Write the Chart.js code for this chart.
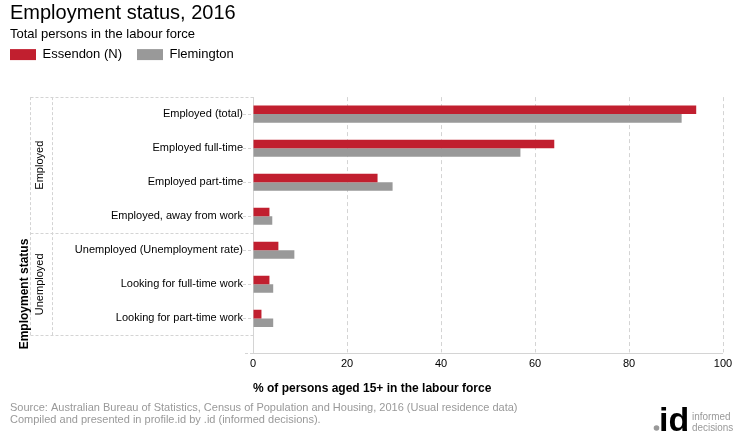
<!DOCTYPE html>
<html><head><meta charset="utf-8">
<script src="https://cdn.jsdelivr.net/npm/chart.js@4"></script>
<style>html,body{margin:0;padding:0;background:#fff}#wrap{width:740px;height:440px;position:relative}</style>
</head><body><div id="wrap"><canvas id="c" width="740" height="440"></canvas></div>
<script>
const chartTitle = 'Employment status, 2016';
const chartSubtitle = 'Total persons in the labour force';
const categories = ['Employed (total)','Employed full-time','Employed part-time','Employed, away from work','Unemployed (Unemployment rate)','Looking for full-time work','Looking for part-time work'];
const groupNames = ['Employed','Unemployed'];
const groupSizes = [4,3];
const seriesNames = ['Essendon (N)','Flemington'];
const essendon = [94.3,64.1,26.5,3.5,5.4,3.5,1.8];
const flemington = [91.2,56.9,29.7,4.1,8.8,4.3,4.3];
const xTicks = [0,20,40,60,80,100];
const yTitle = 'Employment status';
const xTitle = '% of persons aged 15+ in the labour force';
const sourceLines = ['Source: Australian Bureau of Statistics, Census of Population and Housing, 2016 (Usual residence data)','Compiled and presented in profile.id by .id (informed decisions).'];

const FONT = "'Liberation Sans', Arial, sans-serif";
const GRID = '#d4d4d4';

const decor = {
  id: 'decor',
  afterLayout(chart) {
    if (chart.legend) { chart.legend.left -= 15; }
  },
  beforeDatasetsDraw(chart) {
    const ctx = chart.ctx, ca = chart.chartArea;
    const axisY = ca.bottom + 17.5;
    ctx.save();
    ctx.strokeStyle = GRID; ctx.lineWidth = 1;
    ctx.beginPath();
    ctx.moveTo(Math.round(ca.left) + 0.5, ca.top);
    ctx.lineTo(Math.round(ca.left) + 0.5, axisY);
    ctx.moveTo(ca.left, Math.round(axisY) + 0.5);
    ctx.lineTo(ca.right, Math.round(axisY) + 0.5);
    ctx.stroke();
    ctx.setLineDash([3,2]);
    ctx.beginPath();
    ctx.moveTo(ca.left - 8, Math.round(axisY) + 0.5);
    ctx.lineTo(ca.left, Math.round(axisY) + 0.5);
    ctx.stroke();
    ctx.restore();
  },
  afterDraw(chart) {
    const ctx = chart.ctx, ca = chart.chartArea, y = chart.scales.y;
    const x0 = 30.5, x1 = 52.5, xr = Math.round(ca.left);
    ctx.save();
    ctx.strokeStyle = GRID; ctx.lineWidth = 1; ctx.setLineDash([3,2]);
    let idx = 0;
    const bounds = [y.getPixelForValue(-0.5)];
    groupSizes.forEach(n => { idx += n; bounds.push(y.getPixelForValue(idx - 0.5)); });
    ctx.beginPath();
    bounds.forEach(b => { const yy = Math.round(b) + 0.5; ctx.moveTo(x0, yy); ctx.lineTo(xr, yy); });
    ctx.moveTo(x0, bounds[0]); ctx.lineTo(x0, bounds[bounds.length-1]);
    ctx.moveTo(x1, bounds[0]); ctx.lineTo(x1, bounds[bounds.length-1]);
    ctx.stroke();
    ctx.setLineDash([]);
    ctx.fillStyle = '#000';
    ctx.textAlign = 'center'; ctx.textBaseline = 'middle';
    ctx.font = '11px ' + FONT;
    groupNames.forEach((g, i) => {
      const cy = (bounds[i] + bounds[i+1]) / 2;
      ctx.save(); ctx.translate(40, cy); ctx.rotate(-Math.PI/2); ctx.fillText(g, 0, 0); ctx.restore();
    });
    ctx.font = 'bold 12px ' + FONT;
    ctx.save(); ctx.translate(25, 294); ctx.rotate(-Math.PI/2); ctx.fillText(yTitle, 0, 0); ctx.restore();
    ctx.textAlign = 'left'; ctx.textBaseline = 'alphabetic';
    ctx.fillStyle = '#999'; ctx.font = '11px ' + FONT;
    ctx.fillText(sourceLines[0], 10, 411);
    ctx.fillText(sourceLines[1], 10, 423);
    ctx.fillStyle = '#999';
    ctx.beginPath(); ctx.arc(656.5, 428, 2.8, 0, Math.PI*2); ctx.fill();
    ctx.fillStyle = '#000'; ctx.font = 'bold 34px ' + FONT;
    ctx.fillText('id', 659, 431);
    ctx.fillStyle = '#999'; ctx.font = "11px 'Liberation Sans Narrow', 'Liberation Sans', Arial, sans-serif";
    ctx.save(); ctx.translate(692, 0); ctx.scale(0.9, 1);
    ctx.fillText('informed', 0, 420);
    ctx.fillText('decisions', 0, 431);
    ctx.restore();
    ctx.restore();
  }
};

new Chart(document.getElementById('c'), {
  type: 'bar',
  data: {
    labels: categories,
    datasets: [
      { label: seriesNames[0], data: essendon, backgroundColor: '#C11F2F', borderWidth: 0 },
      { label: seriesNames[1], data: flemington, backgroundColor: '#999999', borderWidth: 0 }
    ]
  },
  options: {
    indexAxis: 'y',
    responsive: false,
    animation: false,
    devicePixelRatio: 1,
    categoryPercentage: 0.5,
    barPercentage: 1.0,
    layout: { padding: { left: 10, right: 17, top: 0, bottom: 44 } },
    scales: {
      x: {
        type: 'linear', position: 'bottom', min: 0, max: 100,
        afterBuildTicks(s) { s.ticks = xTicks.map(v => ({ value: v })); },
        ticks: { font: { size: 11, family: FONT }, color: '#000', padding: 5 },
        grid: { color: GRID, tickLength: 17, tickColor: GRID, tickBorderDash: [4,3] },
        border: { display: false, dash: [4,3] },
        title: { display: true, text: xTitle, align: 'start', color: '#000', font: { size: 12, weight: 'bold', family: FONT }, padding: { top: 6, bottom: 0 } }
      },
      x2: {
        type: 'linear', position: 'top', min: 0, max: 100, display: true,
        ticks: { display: false }, grid: { display: false, drawTicks: false }, border: { display: false },
        afterFit(s) { s.height = 26; }
      },
      y: {
        type: 'category', position: 'left', offset: true,
        ticks: { font: { size: 11, family: FONT }, color: '#000', padding: 0, autoSkip: false },
        grid: { offset: false, drawOnChartArea: false, drawTicks: true, tickLength: 10, tickColor: GRID, tickBorderDash: [3,2] },
        border: { display: false },
        afterFit(s) { s.width = 243; }
      }
    },
    plugins: {
      title: { display: true, text: chartTitle, align: 'start', color: '#000', font: { size: 20, weight: 'normal', family: FONT }, padding: { top: 1, bottom: 0 } },
      subtitle: { display: true, text: chartSubtitle, align: 'start', color: '#000', font: { size: 13, family: FONT }, padding: { top: 2, bottom: -9.5 } },
      legend: { position: 'top', align: 'start', labels: { boxWidth: 26, boxHeight: 11, font: { size: 13, family: FONT }, color: '#000', padding: 15 } },
      tooltip: { enabled: false }
    }
  },
  plugins: [decor]
});
</script></body></html>
